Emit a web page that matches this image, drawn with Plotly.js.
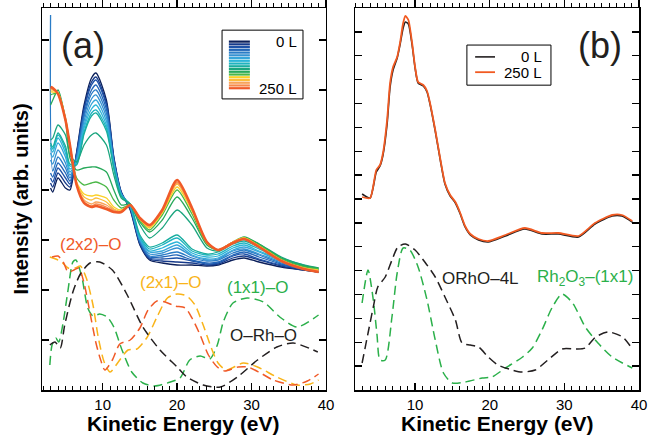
<!DOCTYPE html>
<html><head><meta charset="utf-8">
<script src="https://cdn.plot.ly/plotly-3.0.1.min.js"></script>
<style>html,body{margin:0;padding:0;background:#fff}#plot{width:656px;height:438px}</style>
</head><body><div id="plot"></div>
<script>
// ---------- Panel (a): exposure series, 0 L -> 250 L ----------
const energyA = [3,3.3,4,5,5.6,6.5,7.5,8.5,9.1,10.5,11.5,12.5,13.7,15,16.3,18,20,22,24,25.5,27.5,29,31,34,37,39];
const dose_00 = [202,198,212,202,200,238,285,312,317,290,233,198,180,145,130,127,125,125,124,125,130,132,128,123,120,118];
const dose_01 = [207,203,217,207,203,237,282,308,313,287,232,198,181,146,131,129,128,127,125,126,132,134,130,124,120,118];
const dose_02 = [212,208,222,212,206,236,280,305,310,285,231,197,182,147,132,131,132,129,126,127,134,136,131,125,121,118];
const dose_03 = [217,213,227,217,209,234,276,300,305,281,229,197,183,148,133,133,135,130,127,128,135,138,133,126,121,119];
const dose_04 = [375,219,233,222,212,233,273,296,300,277,228,196,183,149,134,135,138,132,129,130,137,140,135,127,122,119];
const dose_05 = [230,226,240,227,215,231,269,291,295,273,227,196,184,150,136,137,142,134,130,131,139,141,136,128,122,119];
const dose_06 = [237,233,247,233,218,229,265,286,290,269,225,195,184,151,138,139,145,135,131,132,140,143,138,129,123,120];
const dose_07 = [242,238,252,237,221,228,262,281,285,265,224,195,185,152,139,142,148,137,133,134,142,145,139,130,123,120];
const dose_08 = [245,241,255,241,224,226,258,277,280,262,222,194,185,153,141,145,152,139,135,136,144,147,141,131,124,120];
const dose_09 = [247,243,257,244,226,225,256,274,277,259,222,194,186,155,143,147,155,141,136,138,146,149,143,132,125,121];
const dose_10 = [250,252,265,255,235,228,245,255,257,245,215,192,186,165,152,162,180,165,142,139,147,152,146,133,125,122];
const dose_11 = [285,290,300,270,232,220,222,223,223,218,200,185,186,168,158,170,193,172,145,140,148,153,146,132,124,122];
const dose_12 = [295,296,297,272,245,212,205,207,208,203,190,182,185,170,160,175,200,176,146,140,148,152,145,131,123,121];
const dose_13 = [298,298,297,271,245,208,196,194,195,192,183,180,185,171,162,177,203,179,147,140,148,152,144,130,122,120];
const dose_14 = [300,300,297,271,245,207,193,190,192,188,181,179,185,171,163,178,206,180,148,140,148,152,144,130,122,119];
const dose_15 = [301,301,296,270,245,206,190,186,188,185,180,178,185,172,164,179,207,181,148,140,148,151,143,129,121,119];
const dose_16 = [302,301,296,270,245,205,188,184,186,183,179,178,185,172,165,180,208,182,148,140,148,151,143,129,121,118];
const dose_17 = [303,302,296,270,245,205,187,183,184,181,178,178,185,172,165,180,210,182,148,140,147,151,143,129,121,118];
const doseColors = ['#0b1f5a','#163a8a','#1d52a8','#2266b8','#2a7cc6','#3592d2','#37a6da','#2bb5d8','#1fb3c0','#17ad9f','#1aa57e','#27a95a','#4cb848','#fbd027','#fbbd3a','#f8a45a','#f68a4c','#f05a28'];

// Panel (a): simulated curves (dashed)
const energy2x2 = [3.2,4.0,4.7,5.35,6.15,6.8,7.5,8.3,9.1,9.65,10.3,11.3,12.3,13.7,15.0,16.1,17.3,18.4,19.7,21.1,22.0,23.1,24.2,25.4,26.4,28.2,29.5,31.2,32.9,35.6,37.5,39.0];
const sim2x2 = [133,134,128,118,120,122,107,77,47,32,20,30,46,50,62,80,89,88,84,82,72,55,35,23,19,23,23,17,10,5,9,16];
const energy2x1 = [2.9,3.7,4.5,5.35,6.3,7.0,7.8,8.7,9.4,10.2,11.0,12.1,13.4,14.6,16.0,17.3,18.7,20.0,21.3,22.4,23.5,24.6,25.5,26.6,28.9,30.8,33.4,36.1,37.9,39.0];
const sim2x1 = [133,131,128,122,122,124,112,85,53,28,18,28,40,41,53,73,92,96,94,85,65,42,27,20,27,23,13,5,6,10];
const energy1x1 = [2.9,3.2,3.7,4.1,4.7,5.35,6.0,6.4,7.2,8.0,8.7,9.6,10.6,11.5,12.6,13.9,15.4,17.0,19.1,20.4,21.7,23.1,24.4,25.4,26.2,27.5,29.4,31.6,33.8,36.1,39.0];
const sim1x1 = [25,45,52,48,68,100,128,130,113,82,74,76,73,63,40,18,7,4,8,12,30,34,31,45,68,87,92,88,73,63,75];
const energyORhO = [2.9,3.6,4.3,4.9,6.0,7.0,8.3,9.6,11.3,13.3,15.4,17.7,20.0,21.3,23.5,25.8,28.1,30.8,33.4,35.6,38.9];
const simORhO = [45,48,42,65,98,116,127,128,120,95,63,40,23,13,5,3,13,30,43,47,38];

// ---------- Panel (b) ----------
const energyB = [2.9,3.97,4.8,5.3,5.7,6.25,6.65,7.05,7.6,8.0,8.4,8.7,9.1,9.6,10.0,10.4,11.1,11.6,12.0,12.7,13.4,14.0,14.7,15.4,16.0,16.7,17.4,18.5,19.8,22.1,24.7,27.0,29.2,31.9,34.1,36.4,37.7,39.1];
const expB_0L = [196,192,218,224,235,266,303,320,332,346,362,368,366,345,322,307,304,298,286,259,229,206,194,187,177,163,155,150,148,154,161,156,156,153,166,174,174,168];
const expB_250L = [193,192,220,225,237,270,307,323,333,348,367,374,370,347,323,308,305,299,287,260,230,207,195,188,178,164,156,151,149,155,162,157,157,154,167,175,175,169];
const energyORhO4L = [2.9,3.7,4.4,5.0,6.0,6.9,7.7,8.7,10.0,11.3,12.7,14.0,15.4,16.3,17.4,18.5,19.8,21.1,23.0,24.3,26.1,27.8,29.7,31.5,32.8,34.2,35.9,37.8,39.2];
const simORhO4L = [27,57,83,103,113,130,143,146,140,128,113,93,70,47,45,43,33,25,20,18,20,30,41,41,42,53,58,53,40];
const energyRh2O3 = [2.9,3.7,4.4,4.9,5.3,6.0,6.9,7.6,8.4,9.3,10.4,11.6,12.7,13.8,15.0,16.7,19.0,20.3,22.1,24.4,25.7,27.0,28.4,29.7,31.1,32.8,34.5,36.4,39.1];
const simRh2O3 = [87,120,90,55,30,30,73,117,142,140,123,90,50,17,7,8,12,13,22,33,42,60,83,96,87,63,47,33,22];

const doseSeries = [dose_00,dose_01,dose_02,dose_03,dose_04,dose_05,dose_06,dose_07,dose_08,dose_09,dose_10,dose_11,dose_12,dose_13,dose_14,dose_15,dose_16,dose_17];

const cBlack = '#231f20', cOrange = '#f05a28', cYellow = '#f9b419', cGreen = '#2bb04a';
const dashStyle = '9px,5px';
const traces = [];
doseSeries.forEach((ys, i) => {
  traces.push({x: energyA, y: ys, xaxis:'x', yaxis:'y', mode:'lines', type:'scatter',
    line:{color: doseColors[i], width: i === doseSeries.length-1 ? 2.6 : 1.3, shape:'spline', smoothing:0.7},
    hoverinfo:'skip', showlegend:false});
});
function dashed(x, y, color, xa, ya) {
  return {x, y, xaxis:xa, yaxis:ya, mode:'lines', type:'scatter',
    line:{color, width:1.5, dash:dashStyle, shape:'spline', smoothing:0.7}, hoverinfo:'skip', showlegend:false};
}
// the O-Rh-O and ORhO-4L curves sit on the top (mirror) axes, which share the bottom axes' ranges
traces.push(dashed(energyORhO, simORhO, cBlack, 'x3', 'y'));
traces.push(dashed(energy1x1, sim1x1, cGreen, 'x', 'y'));
traces.push(dashed(energy2x1, sim2x1, cYellow, 'x', 'y'));
traces.push(dashed(energy2x2, sim2x2, cOrange, 'x', 'y'));
traces.push({x: energyB, y: expB_0L, xaxis:'x2', yaxis:'y2', mode:'lines', type:'scatter',
  line:{color:cBlack, width:1.6, shape:'spline', smoothing:0.6}, hoverinfo:'skip', showlegend:false});
traces.push({x: energyB, y: expB_250L, xaxis:'x2', yaxis:'y2', mode:'lines', type:'scatter',
  line:{color:'#f15a22', width:1.8, shape:'spline', smoothing:0.6}, hoverinfo:'skip', showlegend:false});
traces.push(dashed(energyORhO4L, simORhO4L, cBlack, 'x4', 'y2'));
traces.push(dashed(energyRh2O3, simRh2O3, cGreen, 'x2', 'y2'));

const axisCommon = {showline:true, linecolor:'#000', linewidth:1.5,
  ticks:'inside', ticklen:7, tickwidth:1.3, tickcolor:'#000', showgrid:false, zeroline:false, automargin:false};
const minorX = {ticks:'inside', dtick:1, tick0:0, ticklen:4, tickwidth:1, tickcolor:'#000', showgrid:false};
const xCommon = Object.assign({}, axisCommon, {mirror:true, range:[1.85,40], tick0:0, dtick:10, minor:minorX,
  tickfont:{size:15, color:'#000'}});
const xTop = Object.assign({}, axisCommon, {side:'top', range:[1.85,40], tick0:0, dtick:10, ticks:'outside',
  minor:{ticks:'outside', dtick:1, tick0:0, ticklen:4, tickwidth:1, tickcolor:'#000', showgrid:false},
  showticklabels:false, showline:false});

const shapes = [];
const annotations = [];
// x-axis titles (placed as text under each panel)
annotations.push({xref:'x domain', yref:'paper', x:0.5, y:-0.088, text:'<b>Kinetic Energy (eV)</b>', showarrow:false, xanchor:'center', yanchor:'middle', font:{size:21, color:'#000'}});
annotations.push({xref:'x2 domain', yref:'paper', x:0.5, y:-0.088, text:'<b>Kinetic Energy (eV)</b>', showarrow:false, xanchor:'center', yanchor:'middle', font:{size:21, color:'#000'}});
// Panel (a) colour legend
shapes.push({type:'rect', xref:'x domain', yref:'y domain', x0:0.634, x1:0.919, y0:0.762, y1:0.942,
  line:{color:'#000', width:1}, fillcolor:'rgba(0,0,0,0)'});
doseColors.forEach((c, i) => {
  const yy = 0.912 - i * (0.912 - 0.790) / (doseColors.length - 1);
  shapes.push({type:'line', xref:'x domain', yref:'y domain', x0:0.658, x1:0.732, y0:yy, y1:yy, line:{color:c, width:2.2}});
});
annotations.push({xref:'x domain', yref:'y domain', x:0.905, y:0.912, text:'0 L', showarrow:false, xanchor:'right', yanchor:'middle', font:{size:15}});
annotations.push({xref:'x domain', yref:'y domain', x:0.905, y:0.788, text:'250 L', showarrow:false, xanchor:'right', yanchor:'middle', font:{size:15}});
// Panel (b) legend
shapes.push({type:'rect', xref:'x2 domain', yref:'y2 domain', x0:0.394, x1:0.690, y0:0.798, y1:0.903,
  line:{color:'#000', width:1}, fillcolor:'rgba(0,0,0,0)'});
shapes.push({type:'line', xref:'x2 domain', yref:'y2 domain', x0:0.423, x1:0.493, y0:0.872, y1:0.872, line:{color:cBlack, width:1.6}});
shapes.push({type:'line', xref:'x2 domain', yref:'y2 domain', x0:0.423, x1:0.493, y0:0.832, y1:0.832, line:{color:'#f15a22', width:1.8}});
annotations.push({xref:'x2 domain', yref:'y2 domain', x:0.665, y:0.872, text:'0 L', showarrow:false, xanchor:'right', yanchor:'middle', font:{size:15}});
annotations.push({xref:'x2 domain', yref:'y2 domain', x:0.665, y:0.832, text:'250 L', showarrow:false, xanchor:'right', yanchor:'middle', font:{size:15}});
// Panel labels and curve labels
function lab(xa, ya, x, y, text, color, size) {
  annotations.push({xref:xa, yref:ya, x, y, text, showarrow:false, xanchor:'center', yanchor:'middle', font:{size, color}});
}
lab('x','y', 7.36, 345, '(a)', '#231f20', 36);
lab('x2','y2', 34.8, 345, '(b)', '#231f20', 36);
lab('x','y', 8.3, 146, '(2x2)–O', cOrange, 17);
lab('x','y', 19.05, 108, '(2x1)–O', cYellow, 17);
lab('x','y', 30.75, 103, '(1x1)–O', cGreen, 17);
lab('x','y', 31.55, 55, 'O–Rh–O', cBlack, 17);
lab('x2','y2', 18.72, 112, 'ORhO–4L', cBlack, 17);
lab('x2','y2', 32.8, 112, 'Rh<sub>2</sub>O<sub>3</sub>–(1x1)', cGreen, 17);

const layout = {
  width:656, height:438,
  margin:{l:42, r:17, t:8, b:48},
  paper_bgcolor:'#fff', plot_bgcolor:'#fff',
  font:{family:'"Liberation Sans", Arial, Helvetica, sans-serif', color:'#000'},
  showlegend:false,
  xaxis: Object.assign({}, xCommon, {domain:[0, 0.4757], anchor:'y'}),
  xaxis2: Object.assign({}, xCommon, {domain:[0.5243, 1], anchor:'y2', range:[1.95,40]}),
  xaxis3: Object.assign({}, xTop, {overlaying:'x', anchor:'y'}),
  xaxis4: Object.assign({}, xTop, {overlaying:'x2', anchor:'y2', range:[1.95,40]}),
  yaxis: Object.assign({}, axisCommon, {mirror:'ticks', domain:[0,1], anchor:'x', range:[0,382], tick0:0, dtick:50, showticklabels:false,
    title:{text:'<b>Intensity (arb. units)</b>', font:{size:20, color:'#000'}, standoff:6}}),
  yaxis2: Object.assign({}, axisCommon, {mirror:'ticks', domain:[0,1], anchor:'x2', range:[0,382], tick0:0, dtick:23.875, showticklabels:false}),
  shapes, annotations
};
Plotly.newPlot('plot', traces, layout, {displayModeBar:false, staticPlot:true});
</script>
</body></html>
